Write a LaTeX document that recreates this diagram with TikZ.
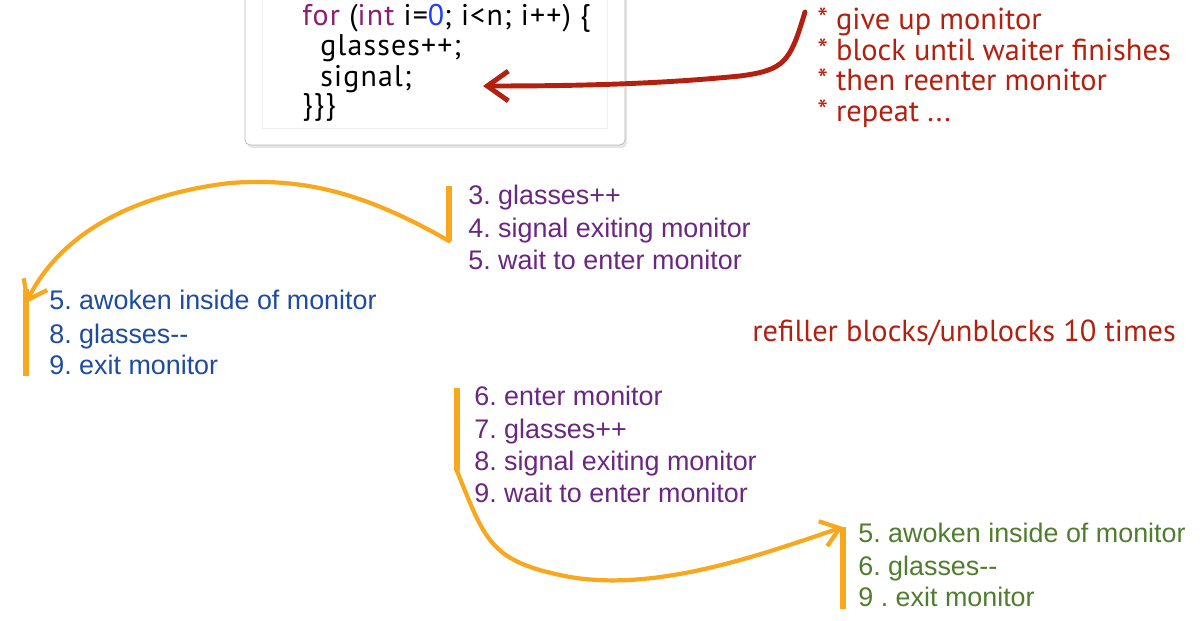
\documentclass[tikz,border=0pt]{standalone}
\usepackage{fontspec}
\setmainfont{Liberation Sans}
\newfontfamily\notefont{PT Sans}
\newfontfamily\codefont[LetterSpace=4]{PT Sans}
\frenchspacing
\usetikzlibrary{arrows.meta,positioning}
\definecolor{stepPurple}{RGB}{107,38,128}
\definecolor{stepBlue}{RGB}{30,75,160}
\definecolor{stepGreen}{RGB}{80,125,45}
\definecolor{noteRed}{RGB}{180,32,15}
\definecolor{markOrange}{RGB}{247,168,30}
\definecolor{codeKey}{RGB}{140,30,110}
\definecolor{codeNum}{RGB}{30,60,250}
\tikzset{
  listitem/.style={anchor=base west, inner sep=0pt, font=\fontsize{15.3}{18}\selectfont},
  noteitem/.style={anchor=base west, inner sep=0pt, text=noteRed, font=\notefont\fontsize{17.3}{20}\selectfont},
  codeline/.style={anchor=base west, inner sep=0pt, font=\codefont\fontsize{17}{20}\selectfont},
  bracket/.style={draw=markOrange, line width=3.6pt},
  swoop/.style={draw=markOrange, line width=2.4pt, line cap=round, -{Straight Barb[length=10pt,width=15pt]}},
  redswoop/.style={draw=noteRed, line width=2.8pt, line cap=round, -{Straight Barb[length=12pt,width=17pt]}}
}
\begin{document}
\begin{tikzpicture}[x=0.02cm,y=-0.02cm]
	\useasboundingbox (0,0) rectangle (1203,621);
	% code box
	\fill[black!10, rounded corners=3pt] (247,-10) rectangle (627,148);
	\draw[black!28, fill=white, rounded corners=3pt] (245,-10) rectangle (625,145);
	\draw[black!6] (262,-10) rectangle (607,128);
	\node[codeline] (for) at (302,26) {\textcolor{codeKey}{for} (\textcolor{codeKey}{int} i=\textcolor{codeNum}{0}; i<n; i++) \{};
	\node[codeline] (inc) at (320,56) {glasses++;};
	\node[codeline] (sig) at (320,87) {signal;};
	\node[codeline] (close) at (302,115) {\}\}\}};
	%
	% notes
	\node[noteitem] (give) at (817,30) {* give up monitor};
	\node[noteitem] (block) at (817,61) {* block until waiter finishes};
	\node[noteitem] (reenter) at (817,91) {* then reenter monitor};
	\node[noteitem] (repeat) at (817,122) {* repeat ...};
	\node[noteitem] (refill) at (752,341) {refiller blocks/unblocks 10 times};
	%
	% refiller, first pass
	\node[listitem, text=stepPurple] (waitA1) at (468,205) {3. glasses++};
	\node[listitem, text=stepPurple] (waitA2) at (468,238) {4. signal exiting monitor};
	\node[listitem, text=stepPurple] (waitA3) at (468,270) {5. wait to enter monitor};
	% first waiter
	\node[listitem, text=stepBlue] (wakeA1) at (49,310) {5. awoken inside of monitor};
	\node[listitem, text=stepBlue] (wakeA2) at (49,343) {8. glasses-{}-};
	\node[listitem, text=stepBlue] (wakeA3) at (49,375) {9. exit monitor};
	% refiller, second pass
	\node[listitem, text=stepPurple] (waitB1) at (474,405) {6. enter monitor};
	\node[listitem, text=stepPurple] (waitB2) at (474,438) {7. glasses++};
	\node[listitem, text=stepPurple] (waitB3) at (474,470) {8. signal exiting monitor};
	\node[listitem, text=stepPurple] (waitB4) at (474,502) {9. wait to enter monitor};
	% second waiter
	\node[listitem, text=stepGreen] (wakeB1) at (858,542) {5. awoken inside of monitor};
	\node[listitem, text=stepGreen] (wakeB2) at (858,575) {6. glasses-{}-};
	\node[listitem, text=stepGreen] (wakeB3) at (858,606) {9 . exit monitor};
	%
	\coordinate (redStart) at (805,12);
	\coordinate (redTip) at (483,86);
	\coordinate (barA top) at (449,186);
	\coordinate (barA bot) at (449,241);
	\coordinate (barB top) at (26,289);
	\coordinate (barB bot) at (26,376);
	\coordinate (barC top) at (457,388);
	\coordinate (barC bot) at (457,471);
	\coordinate (barD top) at (843,527);
	\coordinate (barD bot) at (843,609);
	%
	% red arrow
	\draw[redswoop] (redStart) .. controls (790,62) and (785,70) .. (740,76)
		.. controls (650,85) and (560,86) .. (redTip);
	% brackets
	\draw[bracket] (barA top) -- (barA bot);
	\draw[bracket] (barB top) -- (barB bot);
	\draw[bracket] (barC top) -- (barC bot);
	\draw[bracket] (barD top) -- (barD bot);
	% hand-overs
	\draw[swoop] (barA bot) .. controls (360,190) and (300,178) .. (230,183)
		.. controls (130,195) and (60,235) .. ([yshift=-8]barB top);
	\draw[swoop] (barC bot) .. controls (485,540) and (490,560) .. (560,575)
		.. controls (650,595) and (760,555) .. (barD top);
\end{tikzpicture}
\end{document}
